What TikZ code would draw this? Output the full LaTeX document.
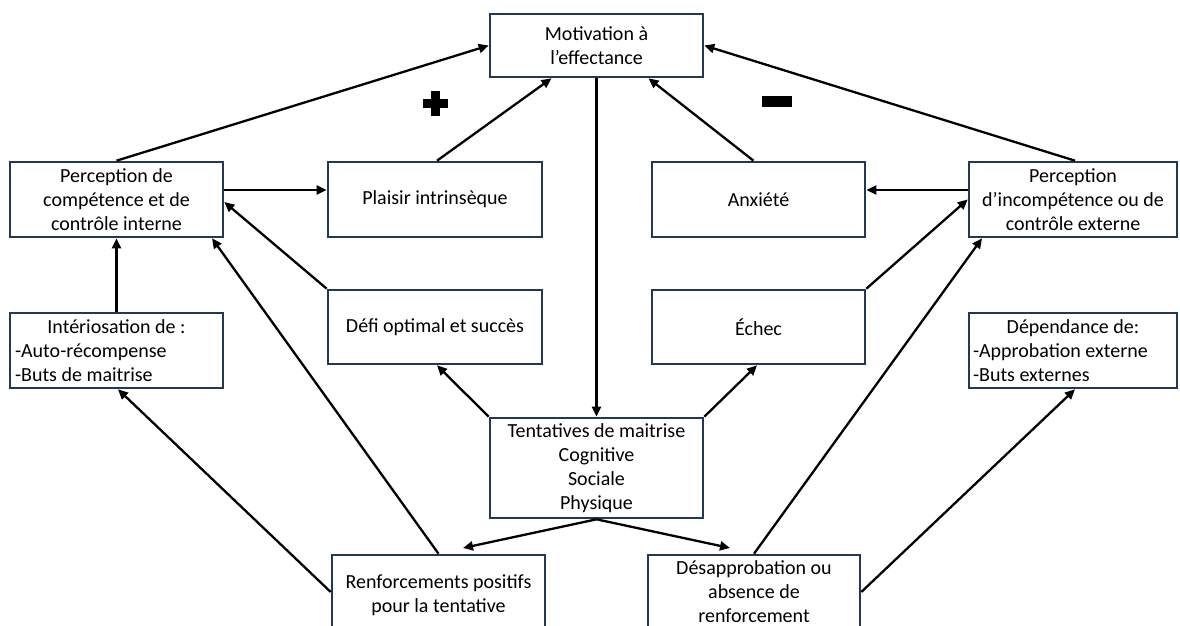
\documentclass[tikz,border=0pt]{standalone}
\usepackage{fontspec}
\setmainfont{Carlito}
\usetikzlibrary{arrows.meta,calc}
\definecolor{boxblue}{HTML}{223858}
\newcommand{\dfont}{\fontsize{20pt}{24pt}\selectfont}
\tikzset{
  box/.style={draw=boxblue, line width=2.6pt, fill=white, align=center, inner sep=0pt, font=\dfont, text=black},
  conn/.style={draw=black, line width=2.3pt, -{Triangle[length=10pt,width=9pt]}},
  sign/.style={fill=black, draw=none}
}
\begin{document}
\begin{tikzpicture}[x=1pt,y=-1pt]
\useasboundingbox (0,0) rectangle (1180,626);
\clip (0,0) rectangle (1180,626);
\fill[white] (0,0) rectangle (1180,626);

% boxes
\node[box, minimum width=213pt, minimum height=63pt] (mot) at (596.5,45.5) {Motivation à\\l’effectance};
\node[box, minimum width=213pt, minimum height=75pt] (percL) at (116.5,199.5) {Perception de\\compétence et de\\contrôle interne};
\node[box, minimum width=214pt, minimum height=75pt] (plaisir) at (435,199.5) {Plaisir intrinsèque};
\node[box, minimum width=213pt, minimum height=75pt] (anx) at (758.5,199.5) {Anxiété};
\node[box, minimum width=208pt, minimum height=75pt] (percR) at (1073,199.5) {Perception\\d’incompétence ou de\\contrôle externe};
\node[box, minimum width=213pt, minimum height=75pt] (inter) at (116.5,350.5) {\makebox[203pt][c]{Intériosation de :}\\\makebox[203pt][l]{-Auto-récompense}\\\makebox[203pt][l]{-Buts de maitrise}};
\node[box, minimum width=214pt, minimum height=74pt] (defi) at (435,327) {Défi optimal et succès};
\node[box, minimum width=213pt, minimum height=74pt] (echec) at (758.5,327) {Échec};
\node[box, minimum width=208pt, minimum height=75pt] (dep) at (1073,350.5) {\makebox[200pt][c]{Dépendance de:}\\\makebox[200pt][l]{-Approbation externe}\\\makebox[200pt][l]{-Buts externes}};
\node[box, minimum width=213pt, minimum height=100pt] (tent) at (596.5,468) {Tentatives de maitrise\\Cognitive\\Sociale\\Physique};
\node[box, minimum width=213pt, minimum height=80pt] (renf) at (438.5,595) {Renforcements positifs\\pour la tentative};
\node[box, minimum width=212pt, minimum height=74pt] (desap) at (754,592) {Désapprobation ou\\absence de\\renforcement};

\coordinate (tipL) at (463,548);
\coordinate (tipR) at (730,548);

% plus and minus signs
\fill[sign] (422.5,98.5) rectangle (447.5,107.5);
\fill[sign] (430.5,90.5) rectangle (439.5,115.5);
\fill[sign] (762,95.5) rectangle (792,106.5);

% connectors
\draw[conn] (percL.north) -- (mot.west);
\draw[conn] ([xshift=2pt]plaisir.north) -- ([xshift=-45pt]mot.south);
\draw[conn] (mot.south) -- (tent.north);
\draw[conn] ([xshift=-5pt]anx.north) -- ([xshift=52pt]mot.south);
\draw[conn] ([xshift=2pt]percR.north) -- (mot.east);
\draw[conn] ([yshift=9.5pt]percL.east) -- ([yshift=9.5pt]plaisir.west);
\draw[conn] ([yshift=9.5pt]percR.west) -- ([yshift=9.5pt]anx.east);
\draw[conn] (inter.north) -- (percL.south);
\draw[conn] (defi.north west) -- ([yshift=-2.5pt]percL.east);
\draw[conn] (renf.north) -- ([xshift=95.5pt]percL.south);
\draw[conn] ([yshift=3pt]renf.west) -- ([xshift=1.5pt]inter.south);
\draw[conn] (tent.north west) -- ([xshift=2pt]defi.south);
\draw[conn] (tent.north east) -- ([xshift=-1.5pt]echec.south);
\draw[conn] (echec.north east) -- (percR.west);
\draw[conn] (desap.north) -- ([xshift=-91pt]percR.south);
\draw[conn] ([yshift=0pt]desap.east) -- ([xshift=2pt]dep.south);
\draw[conn] (tent.south) -- (tipL);
\draw[conn] (tent.south) -- (tipR);
\end{tikzpicture}
\end{document}
